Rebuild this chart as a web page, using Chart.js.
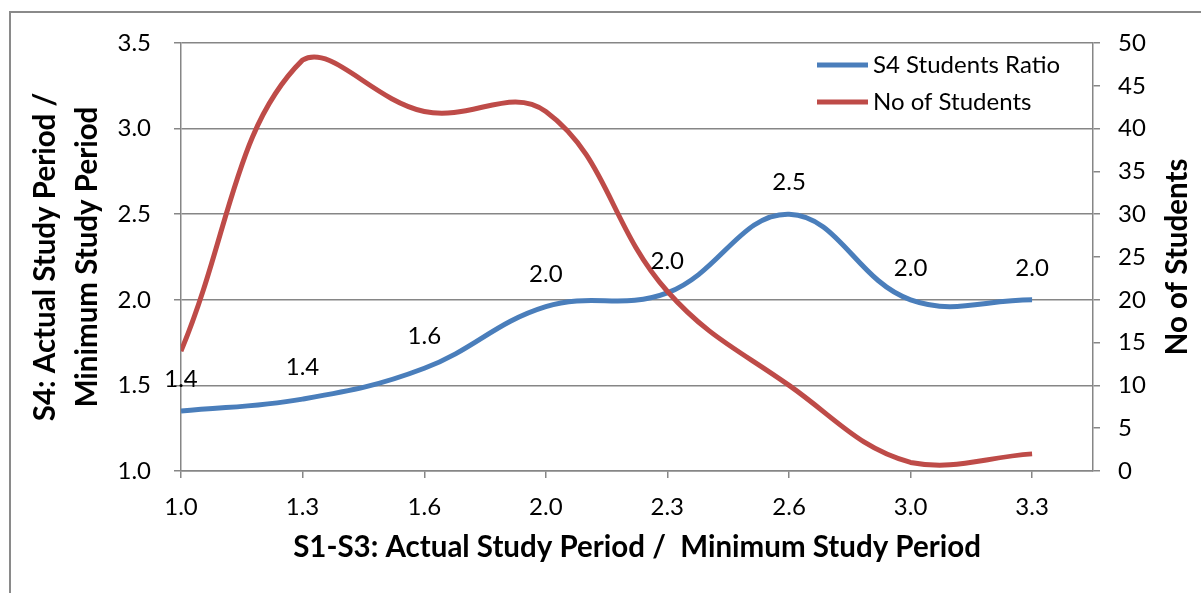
<!DOCTYPE html>
<html>
<head>
<meta charset="utf-8">
<script src="https://cdn.jsdelivr.net/npm/chart.js@4.4.1/dist/chart.umd.min.js"></script>
<style>
  html, body { margin: 0; padding: 0; background: #ffffff; }
  #wrap { width: 1201px; height: 593px; position: relative; }
  canvas { display: block; }
</style>
</head>
<body>
<div id="wrap"><canvas id="chart" width="1201" height="593"></canvas></div>
<script>
// S1-S3 ratio groups (x positions) and their printed tick labels
const periodRatio = [1.0, 1.333, 1.667, 2.0, 2.333, 2.667, 3.0, 3.333];
const periodTickLabels = ['1.0', '1.3', '1.6', '2.0', '2.3', '2.6', '3.0', '3.3'];

// S4 actual / minimum study period ratio per group
const s4Ratio = [1.35, 1.42, 1.6, 1.96, 2.04, 2.5, 2.0, 2.0];

// Number of students per group
const studentCount = [14, 48, 42, 42, 21, 10, 1, 2];

const seriesNames = ['S4 Students Ratio', 'No of Students'];
const seriesColors = ['#4A7EBB', '#BE4B48'];

const FONT = 'Lato, "Open Sans", sans-serif';
const AXIS_GREY = '#868686';
const TICK_SIZE = 24;
const TITLE_SIZE = 29.5;

// Outer frame of the chart object
const framePlugin = {
  id: 'frame',
  beforeDraw(chart) {
    const ctx = chart.ctx;
    ctx.save();
    ctx.fillStyle = '#ffffff';
    ctx.fillRect(0, 0, chart.width, chart.height);
    ctx.strokeStyle = '#8a8a8a';
    ctx.lineWidth = 2;
    ctx.beginPath();
    ctx.moveTo(10, chart.height + 2);
    ctx.lineTo(10, 12);
    ctx.lineTo(chart.width + 2, 12);
    ctx.stroke();
    ctx.restore();
  }
};

// Value labels above the ratio line
const valueLabelPlugin = {
  id: 'valueLabels',
  afterDatasetsDraw(chart) {
    const ctx = chart.ctx;
    const meta = chart.getDatasetMeta(0);
    const data = chart.data.datasets[0].data;
    ctx.save();
    ctx.font = TICK_SIZE + 'px ' + FONT;
    ctx.fillStyle = '#000000';
    ctx.textAlign = 'center';
    ctx.textBaseline = 'middle';
    meta.data.forEach((pt, i) => {
      ctx.fillText(data[i].y.toFixed(1), pt.x, pt.y - 32);
    });
    ctx.restore();
  }
};

// Legend inside the plot, top right
const insideLegendPlugin = {
  id: 'insideLegend',
  afterDraw(chart) {
    const ctx = chart.ctx;
    const area = chart.chartArea;
    const x0 = area.right - 276;
    const rows = [area.top + 22, area.top + 59];
    ctx.save();
    ctx.font = TICK_SIZE + 'px ' + FONT;
    ctx.textAlign = 'left';
    ctx.textBaseline = 'middle';
    chart.data.datasets.forEach((ds, i) => {
      const y = rows[i];
      ctx.strokeStyle = ds.borderColor;
      ctx.lineWidth = 5;
      ctx.beginPath();
      ctx.moveTo(x0, y);
      ctx.lineTo(x0 + 51, y);
      ctx.stroke();
      ctx.fillStyle = '#000000';
      ctx.fillText(ds.label, x0 + 56, y);
    });
    ctx.restore();
  }
};

// Secondary axis title, reading bottom to top
const rightTitlePlugin = {
  id: 'rightTitle',
  afterDraw(chart) {
    const ctx = chart.ctx;
    const area = chart.chartArea;
    ctx.save();
    ctx.translate(1177, (area.top + area.bottom) / 2);
    ctx.rotate(-Math.PI / 2);
    ctx.font = 'bold ' + TITLE_SIZE + 'px ' + FONT;
    ctx.fillStyle = '#000000';
    ctx.textAlign = 'center';
    ctx.textBaseline = 'middle';
    ctx.fillText('No of Students', 0, 0);
    ctx.restore();
  }
};

const ctx = document.getElementById('chart').getContext('2d');
new Chart(ctx, {
  type: 'line',
  data: {
    datasets: [
      {
        label: seriesNames[0],
        data: periodRatio.map((x, i) => ({ x: x, y: s4Ratio[i] })),
        borderColor: seriesColors[0],
        backgroundColor: seriesColors[0],
        borderWidth: 5,
        tension: 0.4,
        pointRadius: 0,
        fill: false,
        yAxisID: 'yRatio',
        order: 1
      },
      {
        label: seriesNames[1],
        data: periodRatio.map((x, i) => ({ x: x, y: studentCount[i] })),
        borderColor: seriesColors[1],
        backgroundColor: seriesColors[1],
        borderWidth: 5,
        tension: 0.4,
        pointRadius: 0,
        fill: false,
        yAxisID: 'yCount',
        order: 0
      }
    ]
  },
  options: {
    responsive: false,
    animation: false,
    devicePixelRatio: 1,
    layout: { padding: { top: 43, left: 0, right: 0, bottom: 0 } },
    plugins: {
      legend: { display: false },
      tooltip: { enabled: false }
    },
    scales: {
      x: {
        type: 'linear',
        position: 'bottom',
        min: 1,
        max: 3.5,
        afterBuildTicks: (scale) => {
          scale.ticks = periodRatio.map(v => ({ value: v }));
        },
        afterFit: (scale) => { scale.height = 122; },
        ticks: {
          autoSkip: false,
          maxRotation: 0,
          padding: 15,
          color: '#000000',
          font: { family: FONT, size: TICK_SIZE },
          callback: (value, index) => periodTickLabels[index]
        },
        grid: { drawOnChartArea: false, drawTicks: true, tickLength: 7, color: AXIS_GREY, lineWidth: 1.5 },
        border: { color: AXIS_GREY, width: 1.5 },
        title: {
          display: true,
          text: 'S1-S3: Actual Study Period /  Minimum Study Period',
          color: '#000000',
          font: { family: FONT, size: TITLE_SIZE, weight: 'bold', lineHeight: 1.2 },
          padding: { top: 0, bottom: 28 }
        }
      },
      yRatio: {
        type: 'linear',
        position: 'left',
        min: 1,
        max: 3.5,
        afterFit: (scale) => { scale.width = 181; },
        ticks: {
          stepSize: 0.5,
          padding: 23,
          color: '#000000',
          font: { family: FONT, size: TICK_SIZE },
          callback: (v) => v.toFixed(1)
        },
        grid: { drawTicks: true, tickLength: 7, color: AXIS_GREY, lineWidth: 1.5 },
        border: { color: AXIS_GREY, width: 1.5 },
        title: {
          display: true,
          text: ['S4: Actual Study Period /', 'Minimum Study Period'],
          color: '#000000',
          font: { family: FONT, size: TITLE_SIZE, weight: 'bold', lineHeight: 42 / TITLE_SIZE },
          padding: { top: 24, bottom: 0 }
        }
      },
      yCount: {
        type: 'linear',
        position: 'right',
        min: 0,
        max: 50,
        afterFit: (scale) => { scale.width = 108; },
        ticks: {
          stepSize: 5,
          padding: 18,
          color: '#000000',
          font: { family: FONT, size: TICK_SIZE }
        },
        grid: { drawOnChartArea: false, drawTicks: true, tickLength: 7, color: AXIS_GREY, lineWidth: 1.5 },
        border: { color: AXIS_GREY, width: 1.5 }
      }
    }
  },
  plugins: [framePlugin, valueLabelPlugin, insideLegendPlugin, rightTitlePlugin]
});
</script>
</body>
</html>
